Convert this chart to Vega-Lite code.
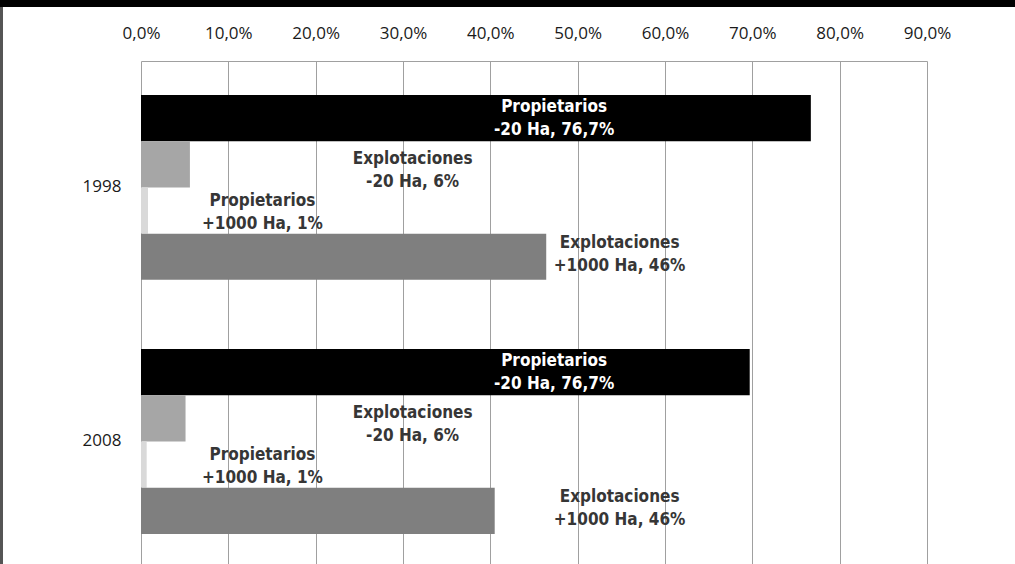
{
  "$schema": "https://vega.github.io/schema/vega-lite/v6.json",
  "padding": 0,
  "background": "white",
  "spacing": 0,
  "config": {"view": {"stroke": null}, "font": "Open Sans"},
  "datasets": {
    "bars": [
      {"year": "1998", "series": "P20", "value": 76.7, "label": "Propietarios\n-20 Ha, 76,7%"},
      {"year": "1998", "series": "E20", "value": 5.6, "label": "Explotaciones\n-20 Ha, 6%"},
      {"year": "1998", "series": "P1000", "value": 0.8, "label": "Propietarios\n+1000 Ha, 1%"},
      {"year": "1998", "series": "E1000", "value": 46.4, "label": "Explotaciones\n+1000 Ha, 46%"},
      {"year": "2008", "series": "P20", "value": 69.7, "label": "Propietarios\n-20 Ha, 76,7%"},
      {"year": "2008", "series": "E20", "value": 5.1, "label": "Explotaciones\n-20 Ha, 6%"},
      {"year": "2008", "series": "P1000", "value": 0.65, "label": "Propietarios\n+1000 Ha, 1%"},
      {"year": "2008", "series": "E1000", "value": 40.5, "label": "Explotaciones\n+1000 Ha, 46%"}
    ]
  },
  "vconcat": [
    {
      "width": 1015,
      "height": 7,
      "view": {"fill": "black", "stroke": null},
      "data": {"values": [{}]},
      "mark": {"type": "text", "text": "", "fontSize": 0},
      "encoding": {}
    },
    {
      "spacing": 0,
      "hconcat": [
        {
          "width": 3,
          "height": 557,
          "view": {"fill": "#555555", "stroke": null},
          "data": {"values": [{}]},
          "mark": {"type": "text", "text": "", "fontSize": 0},
          "encoding": {}
        },
        {
          "spacing": 0,
          "vconcat": [
            {
              "width": 786,
              "height": 54,
              "data": {"name": "bars"},
              "mark": {"type": "text", "text": "", "fontSize": 0},
              "encoding": {
                "x": {
                  "field": "value",
                  "type": "quantitative",
                  "scale": {"domain": [0, 90], "nice": false},
                  "axis": {
                    "orient": "top",
                    "offset": -31,
                    "values": [0, 10, 20, 30, 40, 50, 60, 70, 80, 90],
                    "labelExpr": "replace(format(datum.value, '.1f'), '.', ',') + '%'",
                    "grid": false,
                    "domain": false,
                    "ticks": false,
                    "tickSize": 0,
                    "labelPadding": 0,
                    "labelBaseline": "alphabetic",
                    "labelFont": "Open Sans",
                    "labelFontSize": 17,
                    "labelColor": "#1a1a1a",
                    "labelFlush": false,
                    "labelOverlap": false,
                    "title": null
                  }
                }
              }
            },
            {
              "width": 786,
              "height": 503,
              "data": {"name": "bars"},
              "encoding": {
                "y": {
                  "field": "year",
                  "type": "nominal",
                  "scale": {"paddingInner": 0.272, "paddingOuter": 0.126, "align": 0.53},
                  "axis": {
                    "title": null,
                    "domain": false,
                    "ticks": false,
                    "tickSize": 0,
                    "grid": false,
                    "labelPadding": 20,
                    "labelFont": "Open Sans",
                    "labelFontSize": 17,
                    "labelColor": "#1a1a1a",
                    "labelAngle": 0,
                    "minExtent": 138
                  }
                },
                "yOffset": {
                  "field": "series",
                  "type": "nominal",
                  "sort": null,
                  "scale": {"domain": ["P20", "E20", "P1000", "E1000"], "paddingInner": 0, "paddingOuter": 0}
                }
              },
              "layer": [
                {
                  "mark": {"type": "bar"},
                  "encoding": {
                    "x": {
                      "field": "value",
                      "type": "quantitative",
                      "scale": {"domain": [0, 90], "nice": false},
                      "axis": {
                        "orient": "top",
                        "values": [0, 10, 20, 30, 40, 50, 60, 70, 80, 90],
                        "labels": false,
                        "ticks": false,
                        "tickSize": 0,
                        "domain": true,
                        "domainColor": "#a0a0a0",
                        "domainWidth": 1,
                        "grid": true,
                        "gridColor": "#a0a0a0",
                        "gridWidth": 1,
                        "gridOpacity": 1,
                        "title": null
                      }
                    },
                    "color": {
                      "field": "series",
                      "type": "nominal",
                      "scale": {"domain": ["P20", "E20", "P1000", "E1000"], "range": ["#000000", "#a6a6a6", "#d9d9d9", "#7f7f7f"]},
                      "legend": null
                    }
                  }
                },
                {
                  "transform": [{"filter": "datum.series == 'P20'"}],
                  "mark": {"type": "text", "font": "DejaVu Sans Condensed, Liberation Sans, sans-serif", "fontWeight": "bold", "fontSize": 17, "lineHeight": 23, "lineBreak": "\n", "color": "#ffffff", "align": "center", "baseline": "middle", "dy": -11},
                  "encoding": {"x": {"datum": 47.3, "type": "quantitative"}, "text": {"field": "label"}}
                },
                {
                  "transform": [{"filter": "datum.series == 'E20'"}],
                  "mark": {"type": "text", "font": "DejaVu Sans Condensed, Liberation Sans, sans-serif", "fontWeight": "bold", "fontSize": 17, "lineHeight": 23, "lineBreak": "\n", "color": "#363636", "align": "center", "baseline": "middle", "dy": -5.5},
                  "encoding": {"x": {"datum": 31.1, "type": "quantitative"}, "text": {"field": "label"}}
                },
                {
                  "transform": [{"filter": "datum.series == 'P1000'"}],
                  "mark": {"type": "text", "font": "DejaVu Sans Condensed, Liberation Sans, sans-serif", "fontWeight": "bold", "fontSize": 17, "lineHeight": 23, "lineBreak": "\n", "color": "#363636", "align": "center", "baseline": "middle", "dy": -9.5},
                  "encoding": {"x": {"datum": 13.9, "type": "quantitative"}, "text": {"field": "label"}}
                },
                {
                  "transform": [{"filter": "datum.series == 'E1000'"}],
                  "mark": {"type": "text", "font": "DejaVu Sans Condensed, Liberation Sans, sans-serif", "fontWeight": "bold", "fontSize": 17, "lineHeight": 23, "lineBreak": "\n", "color": "#363636", "align": "center", "baseline": "middle", "dy": -13.5},
                  "encoding": {"x": {"datum": 54.8, "type": "quantitative"}, "text": {"field": "label"}}
                }
              ]
            }
          ]
        }
      ]
    }
  ]
}
